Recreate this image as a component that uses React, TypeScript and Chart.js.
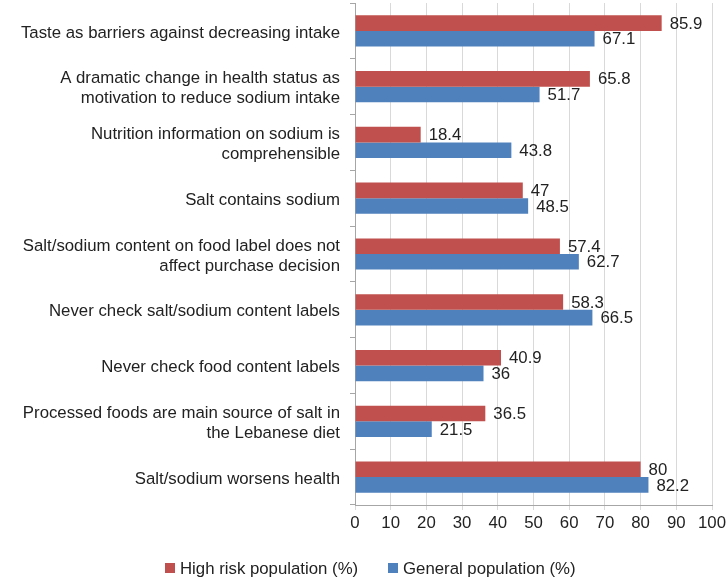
import React, { useEffect, useRef } from "react";
import { Chart, registerables } from "chart.js";

Chart.register(...registerables);

const categories: (string | string[])[] = [
  "Taste as barriers against decreasing intake",
  ["A dramatic change in health status as", "motivation to reduce sodium intake"],
  ["Nutrition information on sodium is", "comprehensible"],
  "Salt contains sodium",
  ["Salt/sodium content on food label does not", "affect purchase decision"],
  "Never check salt/sodium content labels",
  "Never check food content labels",
  ["Processed foods are main source of salt in", "the Lebanese diet"],
  "Salt/sodium worsens health",
];
const highRisk = [85.9, 65.8, 18.4, 47, 57.4, 58.3, 40.9, 36.5, 80];
const general = [67.1, 51.7, 43.8, 48.5, 62.7, 66.5, 36, 21.5, 82.2];
const seriesNames = ["High risk population (%)", "General population (%)"];
const xTicks = [0, 10, 20, 30, 40, 50, 60, 70, 80, 90, 100];

const RED = "#c0504d";
const BLUE = "#4f81bd";
const FONT = "'Liberation Sans', Arial, Helvetica, sans-serif";
const FS = 16.8;

const labelPlugin = {
  id: "valueLabels",
  afterDatasetsDraw(chart: any) {
    const ctx = chart.ctx;
    ctx.save();
    ctx.font = `${FS}px ${FONT}`;
    ctx.fillStyle = "#222";
    ctx.textAlign = "left";
    ctx.textBaseline = "middle";
    chart.data.datasets.forEach((ds: any, di: number) => {
      const meta = chart.getDatasetMeta(di);
      meta.data.forEach((bar: any, i: number) => {
        ctx.fillText(String(ds.data[i]), bar.x + 8, bar.y + 1);
      });
    });
    ctx.restore();
  },
  afterDraw(chart: any) {
    const ctx = chart.ctx;
    ctx.save();
    ctx.font = `${FS}px ${FONT}`;
    ctx.textBaseline = "middle";
    const y = 568;
    const items = [
      { color: RED, x: 165, label: seriesNames[0] },
      { color: BLUE, x: 388, label: seriesNames[1] },
    ];
    items.forEach((it) => {
      ctx.fillStyle = it.color;
      ctx.fillRect(it.x, y - 5, 10, 10);
      ctx.fillStyle = "#222";
      ctx.fillText(it.label, it.x + 15, y + 1);
    });
    ctx.restore();
  },
};

export default function App() {
  const ref = useRef<HTMLCanvasElement>(null);
  useEffect(() => {
    document.body.style.margin = "0";
    const chart = new Chart(ref.current!, {
      type: "bar",
      data: {
        labels: categories,
        datasets: [
          { label: seriesNames[0], data: highRisk, backgroundColor: RED, borderWidth: 0 },
          { label: seriesNames[1], data: general, backgroundColor: BLUE, borderWidth: 0 },
        ],
      },
      options: {
        indexAxis: "y",
        animation: false,
        responsive: false,
        maintainAspectRatio: false,
        datasets: { bar: { categoryPercentage: 0.56, barPercentage: 1 } },
        layout: { padding: { top: 3, right: 14, bottom: 44, left: 0 } },
        plugins: { legend: { display: false }, tooltip: { enabled: false } },
        scales: {
          x: {
            min: 0,
            max: 100,
            afterBuildTicks: (scale: any) => {
              scale.ticks = xTicks.map((v) => ({ value: v }));
            },
            afterFit: (scale: any) => {
              scale.height = 30;
              scale.paddingLeft = 0;
              scale.paddingRight = 0;
            },
            grid: { color: "#d9d9d9", tickLength: 5, lineWidth: 1 },
            border: { color: "#a6a6a6" },
            ticks: { color: "#222", font: { family: FONT, size: FS }, padding: 3 },
          },
          y: {
            afterFit: (scale: any) => {
              scale.width = 355;
              scale.paddingTop = 0;
              scale.paddingBottom = 0;
            },
            grid: { drawOnChartArea: false, drawTicks: true, tickLength: 5, color: "#a6a6a6", offset: true },
            border: { color: "#a6a6a6" },
            ticks: { color: "#222", font: { family: FONT, size: FS, lineHeight: 1.2 }, padding: 10, labelOffset: 2 },
          },
        },
      },
      plugins: [labelPlugin],
    } as any);
    return () => chart.destroy();
  }, []);
  return (
    <div style={{ width: 726, height: 579 }}>
      <canvas ref={ref} width={726} height={579} style={{ width: 726, height: 579, display: "block" }} />
    </div>
  );
}
